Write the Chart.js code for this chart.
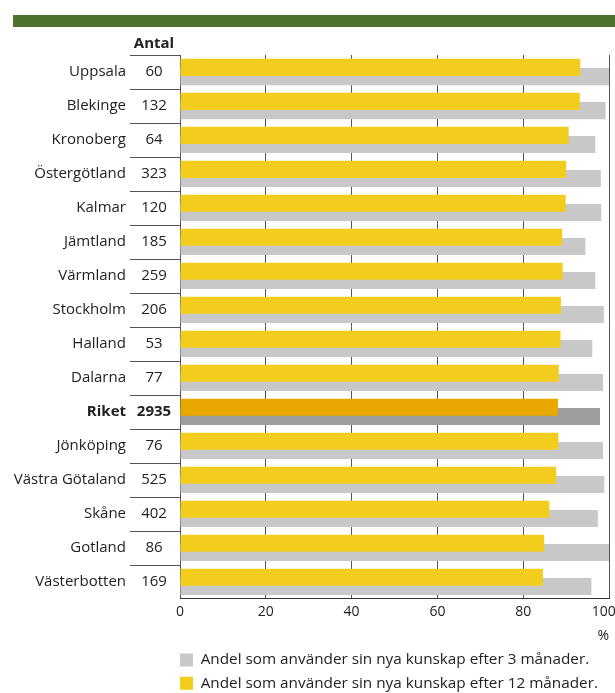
<!DOCTYPE html>
<html>
<head>
<meta charset="utf-8">
<script src="https://cdn.jsdelivr.net/npm/chart.js@4.4.1/dist/chart.umd.min.js"></script>
<style>
    html, body { margin: 0; padding: 0; background: #fff; }
    #wrap { width: 615px; height: 693px; position: relative; }
</style>
</head>
<body>
<div id="wrap"><canvas id="kunskapChart"></canvas></div>
<script>
const regions = ['Uppsala', 'Blekinge', 'Kronoberg', 'Östergötland', 'Kalmar', 'Jämtland', 'Värmland',
    'Stockholm', 'Halland', 'Dalarna', 'Riket', 'Jönköping', 'Västra Götaland', 'Skåne', 'Gotland', 'Västerbotten'];
const antal = [60, 132, 64, 323, 120, 185, 259, 206, 53, 77, 2935, 76, 525, 402, 86, 169];
const after12 = [93.3, 93.2, 90.6, 90.0, 89.9, 89.1, 89.2, 88.8, 88.7, 88.3, 88.1, 88.2, 87.7, 86.1, 84.9, 84.6];
const after3 = [100, 99.2, 96.8, 98.1, 98.2, 94.5, 96.8, 98.8, 96.1, 98.6, 97.9, 98.6, 98.9, 97.4, 100, 95.9];
const xTicks = [0, 20, 40, 60, 80, 100];
const totalRow = 'Riket';

const fontFamily = '"Open Sans", "Noto Sans", sans-serif';
const textColor = '#222';

// the Riket row gets darker colours
const barColor = (normal, dark) => (ctx) =>
    ctx.dataIndex !== undefined && regions[ctx.dataIndex] === totalRow ? dark : normal;

const sideLabels = {
    id: 'sideLabels',
    afterDraw(chart) {
        const { ctx } = chart;
        const y = chart.scales.y;
        const band = y.getPixelForValue(1) - y.getPixelForValue(0);
        ctx.save();

        // green band at the top
        ctx.fillStyle = '#4e7130';
        ctx.fillRect(13, 15, 602, 12);

        ctx.fillStyle = textColor;
        ctx.textBaseline = 'middle';
        ctx.font = 'bold 15px ' + fontFamily;
        ctx.textAlign = 'center';
        ctx.fillText('Antal', 154, 44);

        ctx.strokeStyle = '#555';
        ctx.lineWidth = 1;
        regions.forEach((name, i) => {
            const py = y.getPixelForValue(i);
            const bold = name === totalRow ? 'bold ' : '';
            ctx.font = bold + '15px ' + fontFamily;
            ctx.textAlign = 'right';
            ctx.fillText(name, 126, py);
            ctx.textAlign = 'center';
            ctx.fillText(String(antal[i]), 154, py);

            const top = Math.round(py - band / 2) + 0.5;
            ctx.beginPath();
            ctx.moveTo(130, top);
            ctx.lineTo(180, top);
            ctx.stroke();
        });
        ctx.restore();
    }
};

const kunskapData = {
    labels: regions,
    datasets: [
        {
            label: 'Andel som använder sin nya kunskap efter 12 månader.',
            data: after12,
            backgroundColor: barColor('#f2cd1e', '#e8a800')
        },
        {
            label: 'Andel som använder sin nya kunskap efter 3 månader.',
            data: after3,
            backgroundColor: barColor('#c8c8c8', '#9d9d9d')
        }
    ]
};

const kunskapConfig = {
    type: 'bar',
    data: kunskapData,
    options: {
        indexAxis: 'y',
        maintainAspectRatio: false,
        animation: false,
        categoryPercentage: 0.543,
        barPercentage: 1.85,
        layout: { padding: { top: 55, left: 172, right: 6, bottom: -8 } },
        scales: {
            x: {
                min: 0,
                max: 100,
                afterBuildTicks: (scale) => { scale.ticks = xTicks.map(v => ({ value: v })); },
                // let the "100" label run to the edge like the original
                afterFit: (scale) => { scale.paddingRight = 0; },
                grid: { color: '#555', drawTicks: false },
                border: { color: '#333' },
                ticks: {
                    padding: 5, color: textColor, font: { family: fontFamily, size: 14 },
                    callback: (v) => v === 100 ? '100\u2007\u2009' : String(v)
                },
                title: {
                    display: true, text: '%', align: 'end', color: textColor,
                    font: { family: fontFamily, size: 14 }, padding: { top: 2, bottom: 0 }
                }
            },
            y: {
                afterFit: (scale) => { scale.width = 8; },
                ticks: { display: false },
                grid: { display: false },
                border: { display: false }
            }
        },
        plugins: {
            legend: {
                position: 'bottom',
                align: 'start',
                reverse: true,
                labels: {
                    boxWidth: 13, boxHeight: 13, padding: 8, color: textColor,
                    font: { family: fontFamily, size: 15.3 }
                }
            },
            tooltip: { enabled: false }
        }
    },
    plugins: [sideLabels]
};

const kunskapChart = new Chart(
    document.getElementById('kunskapChart'),
    kunskapConfig
);
</script>
</body>
</html>
